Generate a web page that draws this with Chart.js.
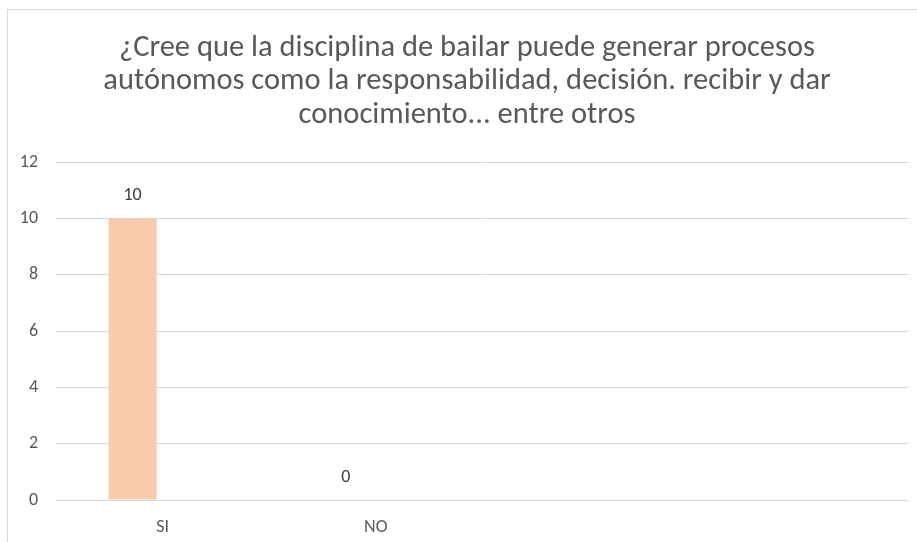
<!DOCTYPE html>
<html>
<head>
<meta charset="utf-8">
<script src="https://cdn.jsdelivr.net/npm/chart.js@4"></script>
<style>
    html, body { margin: 0; padding: 0; background: #fff; overflow: hidden; }
    .frame {
        position: absolute; left: 7px; top: 9px;
        width: 1000px; height: 600px;
        border: 1px solid #d9d9d9;
    }
    #chart { position: absolute; left: 0; top: 0; }
</style>
</head>
<body>
<div class="frame"></div>
<canvas id="chart" width="934" height="542"></canvas>
<script>
// ── Data ─────────────────────────────────────────────
const categories = ['SI', 'NO', '', ''];
const respuestas = [10, 0, null, null];
const otraSerie = [null, null, null, null];
const yTicks = [0, 2, 4, 6, 8, 10, 12];
const titleLines = [
    '¿Cree que la disciplina de bailar puede generar procesos',
    'autónomos como la responsabilidad, decisión. recibir y dar',
    'conocimiento... entre otros'
];

const FONT = 'Carlito, Calibri, "Liberation Sans Narrow", sans-serif';
const TEXT = '#595959';

// ── Value labels above bars ──────────────────────────
const valueLabels = {
    id: 'valueLabels',
    afterDatasetsDraw(chart) {
        const ctx = chart.ctx;
        const meta = chart.getDatasetMeta(0);
        ctx.save();
        ctx.font = '18px ' + FONT;
        ctx.fillStyle = '#404040';
        ctx.textAlign = 'center';
        ctx.textBaseline = 'middle';
        meta.data.forEach((bar, i) => {
            const v = respuestas[i];
            if (v === null) return;
            ctx.fillText(String(v), bar.x, bar.y - 23);
        });
        ctx.restore();
    }
};

new Chart(document.getElementById('chart'), {
    type: 'bar',
    data: {
        labels: categories,
        datasets: [
            { data: respuestas, backgroundColor: '#f8cbad', categoryPercentage: 0.563, barPercentage: 0.8 },
            { data: otraSerie, backgroundColor: '#f4b183', categoryPercentage: 0.563, barPercentage: 0.8 }
        ]
    },
    options: {
        responsive: false,
        animation: false,
        layout: { padding: 0 },
        plugins: {
            legend: { display: false },
            tooltip: { enabled: false },
            title: {
                display: true,
                text: titleLines,
                color: TEXT,
                font: { family: FONT, size: 30.5, weight: 'normal', lineHeight: 1.1 },
                padding: { top: 31.5, bottom: 30 }
            }
        },
        scales: {
            x: {
                afterFit: s => { s.height = 42; },
                grid: { display: false },
                border: { display: false },
                ticks: { color: TEXT, font: { family: FONT, size: 18 }, padding: 9, maxRotation: 0 }
            },
            y: {
                min: 0, max: 12,
                afterBuildTicks: s => { s.ticks = yTicks.map(v => ({ value: v })); },
                afterFit: s => { s.width = 56; },
                grid: { color: '#d9d9d9', lineWidth: 1, drawTicks: false },
                border: { display: false },
                ticks: { color: TEXT, font: { family: FONT, size: 18 }, padding: 18 }
            },
            yRight: {
                position: 'right',
                grid: { display: false },
                border: { display: false },
                ticks: { display: false },
                afterFit: s => { s.width = 25; }
            }
        }
    },
    plugins: [valueLabels]
});
</script>
</body>
</html>
